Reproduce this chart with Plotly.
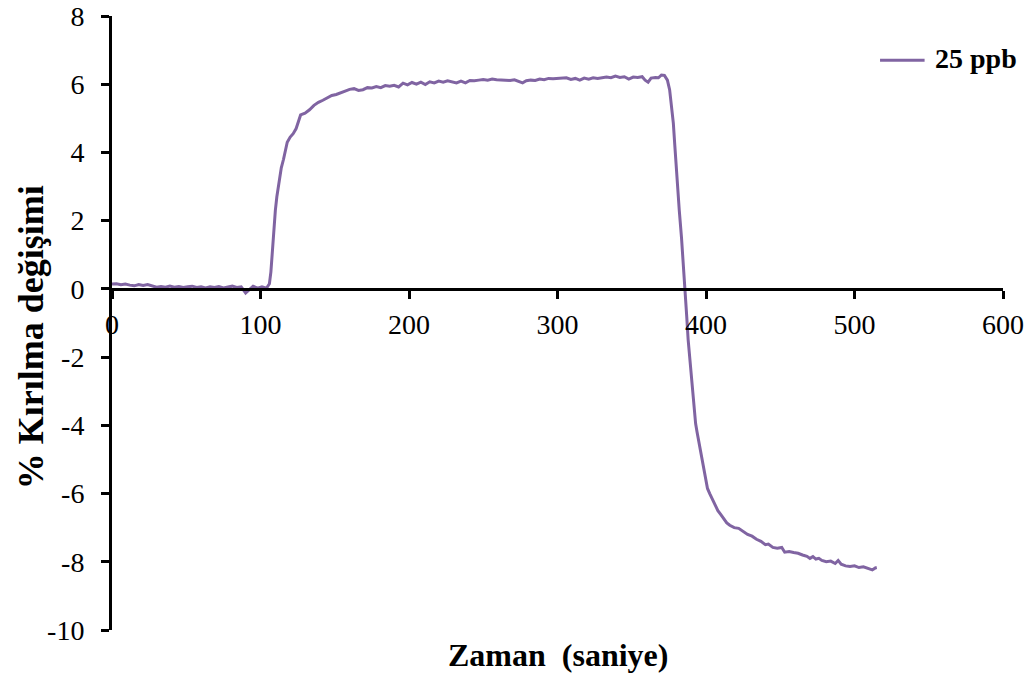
import plotly.graph_objects as go

# time (s)
zaman = [0, 3, 6, 9, 12, 15, 18, 21, 24, 27, 30, 33, 36, 39, 42, 45, 48, 51, 54, 57,
         60, 63, 66, 69, 72, 75, 78, 81, 84, 87, 90, 92, 95, 98, 101, 104, 106,
         107, 108, 109, 110, 111, 112, 113, 114, 115.5, 117, 118, 120, 122, 124, 126, 127,
         130, 133, 136, 139, 142, 145, 148, 151, 154, 157, 160, 163, 166, 169, 172, 175,
         178, 181, 184, 187, 190, 193, 196, 199, 202, 205, 208, 211, 214, 217, 220, 223,
         226, 229, 232, 235, 238, 241, 244, 247, 250, 253, 256, 259, 262, 265, 268, 271,
         274, 276.5, 279, 282, 285, 288, 291, 294, 297, 300, 303, 306, 309, 312, 315, 318,
         321, 324, 327, 330, 333, 336, 339, 342, 345, 348, 351, 354, 357, 359, 361, 363,
         366, 368, 370, 372, 374, 375.5, 377, 378, 379, 380, 381, 382, 383.5, 385, 386,
         387, 388, 389, 390, 391, 392, 393, 394, 395, 396, 397, 398, 399, 400, 401, 402.5,
         404, 406, 408, 410, 412, 414, 416, 419, 422, 425, 428, 431, 434, 437, 440, 442,
         445, 448, 451, 453, 456, 459, 462, 465, 468, 470, 472, 474, 476, 478, 481, 484,
         487, 489, 491, 494, 497, 500, 503, 506, 509, 512, 514, 515]

# % refractive change, 25 ppb
ppb25 = [0.14, 0.15, 0.12, 0.14, 0.11, 0.09, 0.13, 0.10, 0.13, 0.09, 0.05, 0.07, 0.05, 0.08, 0.05, 0.07, 0.04, 0.06, 0.08, 0.04,
         0.06, 0.03, 0.06, 0.04, 0.07, 0.03, 0.05, 0.08, 0.04, 0.06, -0.12, -0.05, 0.08, 0.02, 0.06, 0.02, 0.15,
         0.5, 1.2, 1.8, 2.3, 2.7, 3.0, 3.3, 3.55, 3.8, 4.1, 4.3, 4.45, 4.55, 4.7, 5.0, 5.1,
         5.15, 5.25, 5.38, 5.47, 5.53, 5.6, 5.67, 5.7, 5.76, 5.8, 5.85, 5.87, 5.82, 5.84, 5.9, 5.89,
         5.93, 5.9, 5.96, 5.94, 5.97, 5.92, 6.03, 5.98, 6.05, 6.0, 6.06, 5.99, 6.07, 6.04, 6.09, 6.06,
         6.1, 6.07, 6.04, 6.09, 6.04, 6.11, 6.1, 6.12, 6.14, 6.12, 6.15, 6.13, 6.12, 6.1, 6.11, 6.13,
         6.09, 6.04, 6.1, 6.12, 6.11, 6.15, 6.13, 6.17, 6.16, 6.17, 6.16, 6.19, 6.14, 6.17, 6.12, 6.18,
         6.15, 6.19, 6.17, 6.18, 6.21, 6.19, 6.24, 6.2, 6.22, 6.15, 6.21, 6.2, 6.22, 6.12, 6.06, 6.18,
         6.2, 6.19, 6.27, 6.26, 6.12, 5.84, 5.3, 4.86, 4.2, 3.5, 2.9, 2.3, 1.5, 0.6, -0.1,
         -0.8, -1.5, -2.0, -2.6, -3.2, -3.6, -3.95, -4.2, -4.45, -4.7, -4.95, -5.2, -5.45, -5.65, -5.85, -6.0,
         -6.15, -6.35, -6.5, -6.62, -6.75, -6.86, -6.93, -7.0, -7.02, -7.1, -7.2, -7.25, -7.34, -7.4, -7.5, -7.48,
         -7.58, -7.6, -7.58, -7.72, -7.7, -7.73, -7.75, -7.8, -7.84, -7.9, -7.85, -7.92, -7.9, -7.96, -8.0, -7.98,
         -8.05, -7.96, -8.07, -8.12, -8.14, -8.12, -8.17, -8.15, -8.19, -8.24, -8.18, -8.17]

x_ticks = [0, 100, 200, 300, 400, 500, 600]
y_ticks = [-10, -8, -6, -4, -2, 0, 2, 4, 6, 8]
y_tick_labels = ["-10", "-8", "-6", "-4", "-2", "0", "2", "4", "6", "8"]
series_name = "25 ppb"
x_title = "Zaman  (saniye)"
y_title = "% Kırılma değişimi"

FONT = "Liberation Serif, Times New Roman, serif"
COLOR = "#8064A2"
Y_MIN, Y_MAX = -10, 8

fig = go.Figure()
fig.add_trace(go.Scatter(x=zaman, y=ppb25, mode="lines", name=series_name,
                         line=dict(color=COLOR, width=3), showlegend=False))

# legend drawn manually (long line sample as in the reference)
fig.add_shape(type="line", xref="paper", yref="paper",
              x0=0.862, x1=0.912, y0=0.928, y1=0.928,
              line=dict(color=COLOR, width=3))

fig.update_layout(
    width=1035, height=679,
    margin=dict(l=112, r=32, t=16, b=49),
    paper_bgcolor="white", plot_bgcolor="white",
    font=dict(family=FONT, size=28, color="black"),
    showlegend=False,
    xaxis=dict(range=[0, 600], tickvals=x_ticks, ticks="outside", ticklen=8, tickwidth=2.5,
               tickcolor="black", showline=True, linecolor="black", linewidth=3,
               showgrid=False, zeroline=False, anchor="free", automargin=False,
               position=(0 - Y_MIN) / (Y_MAX - Y_MIN), ticklabelstandoff=2,
               tickfont=dict(family=FONT, size=28)),
    yaxis=dict(range=[Y_MIN, Y_MAX], tickvals=y_ticks, ticktext=y_tick_labels,
               ticks="outside", ticklen=8, tickwidth=2.5, automargin=False,
               tickcolor="black", showline=True, linecolor="black", linewidth=3,
               showgrid=False, zeroline=False, ticklabelstandoff=11,
               tickfont=dict(family=FONT, size=28)),
    annotations=[
        dict(text=x_title, xref="paper", yref="paper",
             x=0.5, y=-0.0407, xanchor="center", yanchor="middle", showarrow=False,
             font=dict(family=FONT, size=32, color="black", weight="bold")),
        dict(text=y_title, xref="paper", yref="paper", textangle=-90,
             x=-0.0909, y=0.477, xanchor="center", yanchor="middle", showarrow=False,
             font=dict(family=FONT, size=36, color="black", weight="bold")),
        dict(text=series_name, xref="paper", yref="paper",
             x=0.921, y=0.93, xanchor="left", yanchor="middle", showarrow=False,
             font=dict(family=FONT, size=28, color="black", weight="bold")),
    ],
)

fig.write_html("out.html")
